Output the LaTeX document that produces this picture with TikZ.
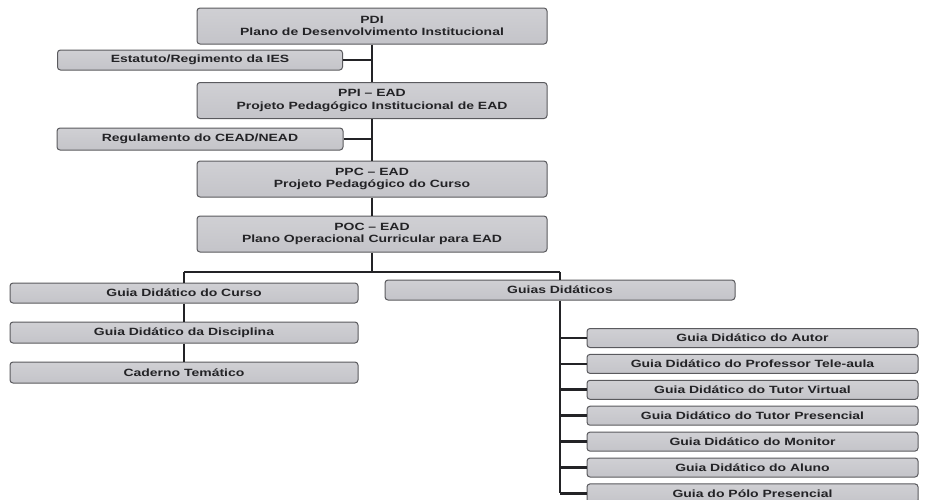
\documentclass[tikz,border=0pt]{standalone}
\usepackage{fontspec}
\setmainfont{Liberation Sans}[FakeStretch=1.33]
\definecolor{boxfill}{RGB}{196,196,201}
\definecolor{boxline}{RGB}{90,90,94}
\definecolor{boxtext}{RGB}{35,35,38}
\definecolor{linkline}{RGB}{35,35,38}

\begin{document}
\begin{tikzpicture}[x=1pt,y=-1pt,line width=2.8pt,draw=linkline]
    \tikzstyle{box}=[rectangle,rounded corners=3pt,draw=boxline,line width=1pt,
        top color=boxfill!80,bottom color=boxfill,text=boxtext,font=\bfseries\fontsize{10.5}{12.3}\selectfont,
        align=center,inner sep=0pt,minimum height=20pt]
    \tikzstyle{bigbox}=[box,minimum width=350pt,minimum height=36pt]
    \useasboundingbox (0,0) rectangle (928,499);

    % main column
    \node[bigbox] (PDI) at (372,26) {PDI\\Plano de Desenvolvimento Institucional};
    \node[box,minimum width=285pt] (EST) at (200,60) {Estatuto/Regimento da IES};
    \node[bigbox] (PPI) at (372,100.5) {PPI -- EAD\\Projeto Pedagógico Institucional de EAD};
    \node[box,minimum width=286pt,minimum height=22pt] (REG) at (200,139) {Regulamento do CEAD/NEAD};
    \node[bigbox] (PPC) at (372,179) {PPC -- EAD\\Projeto Pedagógico do Curso};
    \node[bigbox] (POC) at (372,234) {POC -- EAD\\Plano Operacional Curricular para EAD};

    \foreach \from/\to in {PDI/PPI,PPI/PPC,PPC/POC}
        \draw (\from) -- (\to);
    \foreach \side/\top in {EST/PDI,REG/PPI}
        \draw (\side.east) -- (\side.east -| \top.south);

    % left branch
    \node[box,minimum width=348pt] (CUR) at (184,293) {Guia Didático do Curso};
    \node[box,minimum width=348pt,minimum height=21pt] (DIS) at (184,332.5) {Guia Didático da Disciplina};
    \node[box,minimum width=348pt,minimum height=21pt] (CAD) at (184,372.5) {Caderno Temático};

    % right branch
    \node[box,minimum width=350pt] (GUI) at (560,290) {Guias Didáticos};
    \foreach \num/\txt in {1/Guia Didático do Autor, 2/Guia Didático do Professor Tele-aula,
            3/Guia Didático do Tutor Virtual, 4/Guia Didático do Tutor Presencial,
            5/Guia Didático do Monitor, 6/Guia Didático do Aluno, 7/Guia do Pólo Presencial}
        \node[box,minimum width=331pt,minimum height=19pt] (G-\num) at (752.5,{312.1+25.9*\num}) {\txt};

    \coordinate (split) at (372,272);
    \draw (POC) -- (split);
    \draw (split -| CUR.north) -- (split -| GUI.north);
    \draw (split -| CUR.north) -- (CUR);
    \draw (split -| GUI.north) -- (GUI);
    \draw (CUR) -- (DIS);
    \draw (DIS) -- (CAD);
    \draw (GUI.south) -- (GUI.south |- G-7.west);
    \foreach \num in {1,...,7}
        \draw (G-\num.west) -- (G-\num.west -| GUI.south);
\end{tikzpicture}
\end{document}
